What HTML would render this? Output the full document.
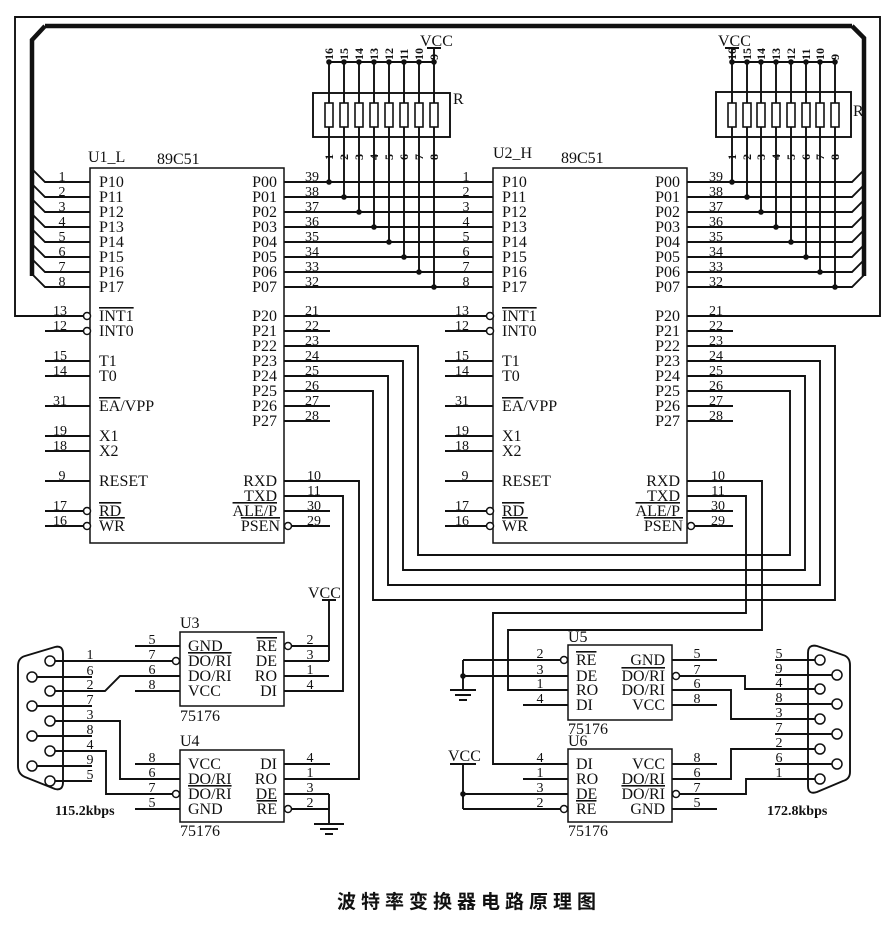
<!DOCTYPE html>
<html><head><meta charset="utf-8"><style>
html,body{margin:0;padding:0;background:#fff;}
svg{display:block;}
text{font-family:"Liberation Serif","Noto Serif CJK SC",serif;fill:#111;}
.l{font-size:16px;}
.n{font-size:14px;text-anchor:middle;}
.e{text-anchor:end;}
.o{text-decoration:overline;}
.r{font-size:12px;}
</style></head><body>
<svg width="891" height="928" viewBox="0 0 891 928" xmlns="http://www.w3.org/2000/svg">
<rect width="891" height="928" fill="#fff"/>
<g stroke="#111" stroke-width="1.9" fill="none">
<path d="M86,316 H15 V17 H880 V316 H687"/>
<path d="M45,26 L32,40 V276 M852,26 L864,38 V276 M45,26 H852" stroke-width="4.5"/>
<rect x="90" y="168" width="194" height="375" stroke-width="1.5"/>
<rect x="493" y="168" width="194" height="375" stroke-width="1.5"/>
<path d="M33,170 L45,182 H90 M33,185 L45,197 H90 M33,200 L45,212 H90 M33,215 L45,227 H90 M33,230 L45,242 H90 M33,245 L45,257 H90 M33,260 L45,272 H90 M33,275 L45,287 H90"/>
<path d="M284,182 H493 M284,197 H493 M284,212 H493 M284,227 H493 M284,242 H493 M284,257 H493 M284,272 H493 M284,287 H493"/>
<path d="M687,182 H852 L864,170 M687,197 H852 L864,185 M687,212 H852 L864,200 M687,227 H852 L864,215 M687,242 H852 L864,230 M687,257 H852 L864,245 M687,272 H852 L864,260 M687,287 H852 L864,275"/>
<rect x="313" y="93" width="137" height="44"/>
<path d="M329,62 V182 M344,62 V197 M359,62 V212 M374,62 V227 M389,62 V242 M404,62 V257 M419,62 V272 M434,48 V287 M329,62 H434 M427,48 H441"/>
<rect x="716" y="92" width="135" height="45"/>
<path d="M732,48 V182 M747,62 V197 M761,62 V212 M776,62 V227 M791,62 V242 M806,62 V257 M820,62 V272 M835,62 V287 M732,62 H835 M725,48 H739"/>
</g>
<g fill="#fff" stroke="#111" stroke-width="1.6">
<rect x="325" y="103" width="8" height="24"/><rect x="340" y="103" width="8" height="24"/><rect x="355" y="103" width="8" height="24"/><rect x="370" y="103" width="8" height="24"/><rect x="385" y="103" width="8" height="24"/><rect x="400" y="103" width="8" height="24"/><rect x="415" y="103" width="8" height="24"/><rect x="430" y="103" width="8" height="24"/>
<rect x="728" y="103" width="8" height="24"/><rect x="743" y="103" width="8" height="24"/><rect x="757" y="103" width="8" height="24"/><rect x="772" y="103" width="8" height="24"/><rect x="787" y="103" width="8" height="24"/><rect x="802" y="103" width="8" height="24"/><rect x="816" y="103" width="8" height="24"/><rect x="831" y="103" width="8" height="24"/>
</g>
<g fill="#111">
<circle cx="329" cy="62" r="2.8"/><circle cx="344" cy="62" r="2.8"/><circle cx="359" cy="62" r="2.8"/><circle cx="374" cy="62" r="2.8"/><circle cx="389" cy="62" r="2.8"/><circle cx="404" cy="62" r="2.8"/><circle cx="419" cy="62" r="2.8"/><circle cx="434" cy="62" r="2.8"/>
<circle cx="329" cy="182" r="2.8"/><circle cx="344" cy="197" r="2.8"/><circle cx="359" cy="212" r="2.8"/><circle cx="374" cy="227" r="2.8"/><circle cx="389" cy="242" r="2.8"/><circle cx="404" cy="257" r="2.8"/><circle cx="419" cy="272" r="2.8"/><circle cx="434" cy="287" r="2.8"/>
<circle cx="732" cy="62" r="2.8"/><circle cx="747" cy="62" r="2.8"/><circle cx="761" cy="62" r="2.8"/><circle cx="776" cy="62" r="2.8"/><circle cx="791" cy="62" r="2.8"/><circle cx="806" cy="62" r="2.8"/><circle cx="820" cy="62" r="2.8"/><circle cx="835" cy="62" r="2.8"/>
<circle cx="732" cy="182" r="2.8"/><circle cx="747" cy="197" r="2.8"/><circle cx="761" cy="212" r="2.8"/><circle cx="776" cy="227" r="2.8"/><circle cx="791" cy="242" r="2.8"/><circle cx="806" cy="257" r="2.8"/><circle cx="820" cy="272" r="2.8"/><circle cx="835" cy="287" r="2.8"/>
<circle cx="463" cy="676" r="2.8"/><circle cx="463" cy="794" r="2.8"/>
</g>
<g stroke="#111" stroke-width="1.9" fill="none">
<path d="M45,331 H83 M45,361 H90 M45,376 H90 M45,406 H90 M45,436 H90 M45,451 H90 M45,481 H90 M45,511 H83 M45,526 H83"/>
<path d="M284,316 H486 M284,331 H330 M284,406 H330 M284,421 H330 M284,511 H330 M291,526 H330"/>
<path d="M445,331 H486 M445,361 H493 M445,376 H493 M445,406 H493 M445,436 H493 M445,451 H493 M445,481 H493 M445,511 H486 M445,526 H486"/>
<path d="M687,331 H733 M687,406 H733 M687,421 H733 M687,511 H733 M694,526 H733"/>
<path d="M284,346 H418 V555 H790 V391 H687"/>
<path d="M284,361 H403 V570 H805 V376 H687"/>
<path d="M284,376 H388 V585 H820 V361 H687"/>
<path d="M284,391 H373 V600 H835 V346 H687"/>
<path d="M284,481 H359 V779 H284"/>
<path d="M284,496 H343 V691 H284"/>
<path d="M687,481 H762 V630 H508 V690 H568"/>
<path d="M687,496 H746 V613 H493 V764 H568"/>
<rect x="180" y="632" width="104" height="74" stroke-width="1.5"/>
<rect x="180" y="750" width="104" height="72" stroke-width="1.5"/>
<path d="M135,646 H180 M135,691 H180 M135,764 H180 M135,809 H180"/>
<path d="M292,646 H329 M284,661 H329 M284,676 H329 M329,600 V661 M322,600 H336"/>
<path d="M284,764 H330 M284,794 H329 M292,809 H329 M329,794 V824 M314,824 H344 M320,829 H338 M325,834 H333"/>
<path d="M63,654 Q63,645 55,647 L25,656 Q18,658 18,666 V766 Q18,774 25,777 L55,789 Q63,791 63,782 Z"/>
<path d="M55,661 H172 M37,677 H92 M55,691 H105 L120,676 H180 M37,706 H92 M55,721 H120 V779 H180 M37,736 H92 M55,751 H106 V794 H172 M37,766 H92 M55,781 H92"/>
<rect x="568" y="645" width="104" height="75" stroke-width="1.5"/>
<rect x="568" y="749" width="104" height="73" stroke-width="1.5"/>
<path d="M463,660 H560 M463,676 H568 M463,660 V690 M450,690 H476 M455,695 H471 M459,700 H467 M523,705 H568"/>
<path d="M672,660 H717 M680,676 H745 V689 H815 M672,690 H731 V719 H815 M672,705 H717"/>
<path d="M450,764 H476 M463,764 V809 M463,794 H568 M463,809 H560 M523,779 H568"/>
<path d="M672,764 H717 M672,779 H731 V749 H815 M680,794 H746 V779 H815 M672,809 H717"/>
<path d="M808,653 Q808,644 817,646 L843,655 Q850,657 850,665 V772 Q850,779 843,781 L817,792 Q808,795 808,786 Z"/>
<path d="M775,660 H815 M775,675 H832 M775,704 H832 M775,734 H832 M775,764 H832"/>
</g>
<g fill="#fff" stroke="#111" stroke-width="1.5">
<circle cx="87" cy="316" r="3.5"/><circle cx="87" cy="331" r="3.5"/><circle cx="87" cy="511" r="3.5"/><circle cx="87" cy="526" r="3.5"/><circle cx="288" cy="526" r="3.5"/>
<circle cx="490" cy="316" r="3.5"/><circle cx="490" cy="331" r="3.5"/><circle cx="490" cy="511" r="3.5"/><circle cx="490" cy="526" r="3.5"/><circle cx="691" cy="526" r="3.5"/>
<circle cx="176" cy="661" r="3.5"/><circle cx="288" cy="646" r="3.5"/><circle cx="176" cy="794" r="3.5"/><circle cx="288" cy="809" r="3.5"/>
<circle cx="564" cy="660" r="3.5"/><circle cx="676" cy="676" r="3.5"/><circle cx="564" cy="809" r="3.5"/><circle cx="676" cy="794" r="3.5"/>
<circle cx="50" cy="661" r="5"/><circle cx="32" cy="677" r="5"/><circle cx="50" cy="691" r="5"/><circle cx="32" cy="706" r="5"/><circle cx="50" cy="721" r="5"/><circle cx="32" cy="736" r="5"/><circle cx="50" cy="751" r="5"/><circle cx="32" cy="766" r="5"/><circle cx="50" cy="781" r="5"/>
<circle cx="820" cy="660" r="5"/><circle cx="837" cy="675" r="5"/><circle cx="820" cy="689" r="5"/><circle cx="837" cy="704" r="5"/><circle cx="820" cy="719" r="5"/><circle cx="837" cy="734" r="5"/><circle cx="820" cy="749" r="5"/><circle cx="837" cy="764" r="5"/><circle cx="820" cy="779" r="5"/>
</g>

<text class="l" x="88" y="162">U1_L</text><text class="l" x="157" y="164">89C51</text>
<text class="l" x="493" y="158">U2_H</text><text class="l" x="561" y="163">89C51</text>
<text class="l" x="420" y="46">VCC</text><text class="l" x="718" y="46">VCC</text>
<text class="l" x="453" y="104">R</text><text class="l" x="853" y="116">R</text>

<g class="l">
<text x="99" y="187">P10</text><text x="99" y="202">P11</text><text x="99" y="217">P12</text><text x="99" y="232">P13</text><text x="99" y="247">P14</text><text x="99" y="262">P15</text><text x="99" y="277">P16</text><text x="99" y="292">P17</text>
<text x="99" y="321" class="o">INT1</text><text x="99" y="336">INT0</text><text x="99" y="366">T1</text><text x="99" y="381">T0</text>
<text x="99" y="411"><tspan class="o">EA</tspan>/VPP</text><text x="99" y="441">X1</text><text x="99" y="456">X2</text><text x="99" y="486">RESET</text>
<text x="99" y="516" class="o">RD</text><text x="99" y="531" class="o">WR</text>
<text x="277" y="187" class="e">P00</text><text x="277" y="202" class="e">P01</text><text x="277" y="217" class="e">P02</text><text x="277" y="232" class="e">P03</text><text x="277" y="247" class="e">P04</text><text x="277" y="262" class="e">P05</text><text x="277" y="277" class="e">P06</text><text x="277" y="292" class="e">P07</text>
<text x="277" y="321" class="e">P20</text><text x="277" y="336" class="e">P21</text><text x="277" y="351" class="e">P22</text><text x="277" y="366" class="e">P23</text><text x="277" y="381" class="e">P24</text><text x="277" y="396" class="e">P25</text><text x="277" y="411" class="e">P26</text><text x="277" y="426" class="e">P27</text>
<text x="277" y="486" class="e">RXD</text><text x="277" y="501" class="e">TXD</text><text x="277" y="516" class="e o">ALE/P</text><text x="280" y="531" class="e o">PSEN</text>
</g>
<g class="l">
<text x="502" y="187">P10</text><text x="502" y="202">P11</text><text x="502" y="217">P12</text><text x="502" y="232">P13</text><text x="502" y="247">P14</text><text x="502" y="262">P15</text><text x="502" y="277">P16</text><text x="502" y="292">P17</text>
<text x="502" y="321" class="o">INT1</text><text x="502" y="336">INT0</text><text x="502" y="366">T1</text><text x="502" y="381">T0</text>
<text x="502" y="411"><tspan class="o">EA</tspan>/VPP</text><text x="502" y="441">X1</text><text x="502" y="456">X2</text><text x="502" y="486">RESET</text>
<text x="502" y="516" class="o">RD</text><text x="502" y="531" class="o">WR</text>
<text x="680" y="187" class="e">P00</text><text x="680" y="202" class="e">P01</text><text x="680" y="217" class="e">P02</text><text x="680" y="232" class="e">P03</text><text x="680" y="247" class="e">P04</text><text x="680" y="262" class="e">P05</text><text x="680" y="277" class="e">P06</text><text x="680" y="292" class="e">P07</text>
<text x="680" y="321" class="e">P20</text><text x="680" y="336" class="e">P21</text><text x="680" y="351" class="e">P22</text><text x="680" y="366" class="e">P23</text><text x="680" y="381" class="e">P24</text><text x="680" y="396" class="e">P25</text><text x="680" y="411" class="e">P26</text><text x="680" y="426" class="e">P27</text>
<text x="680" y="486" class="e">RXD</text><text x="680" y="501" class="e">TXD</text><text x="680" y="516" class="e o">ALE/P</text><text x="683" y="531" class="e o">PSEN</text>
</g>
<g class="n">
<text x="62" y="181">1</text><text x="62" y="196">2</text><text x="62" y="211">3</text><text x="62" y="226">4</text><text x="62" y="241">5</text><text x="62" y="256">6</text><text x="62" y="271">7</text><text x="62" y="286">8</text>
<text x="60" y="315">13</text><text x="60" y="330">12</text><text x="60" y="360">15</text><text x="60" y="375">14</text><text x="60" y="405">31</text><text x="60" y="435">19</text><text x="60" y="450">18</text><text x="62" y="480">9</text><text x="60" y="510">17</text><text x="60" y="525">16</text>
<text x="312" y="181">39</text><text x="312" y="196">38</text><text x="312" y="211">37</text><text x="312" y="226">36</text><text x="312" y="241">35</text><text x="312" y="256">34</text><text x="312" y="271">33</text><text x="312" y="286">32</text>
<text x="312" y="315">21</text><text x="312" y="330">22</text><text x="312" y="345">23</text><text x="312" y="360">24</text><text x="312" y="375">25</text><text x="312" y="390">26</text><text x="312" y="405">27</text><text x="312" y="420">28</text>
<text x="314" y="480">10</text><text x="314" y="495">11</text><text x="314" y="510">30</text><text x="314" y="525">29</text>
<text x="466" y="181">1</text><text x="466" y="196">2</text><text x="466" y="211">3</text><text x="466" y="226">4</text><text x="466" y="241">5</text><text x="466" y="256">6</text><text x="466" y="271">7</text><text x="466" y="286">8</text>
<text x="462" y="315">13</text><text x="462" y="330">12</text><text x="462" y="360">15</text><text x="462" y="375">14</text><text x="462" y="405">31</text><text x="462" y="435">19</text><text x="462" y="450">18</text><text x="465" y="480">9</text><text x="462" y="510">17</text><text x="462" y="525">16</text>
<text x="716" y="181">39</text><text x="716" y="196">38</text><text x="716" y="211">37</text><text x="716" y="226">36</text><text x="716" y="241">35</text><text x="716" y="256">34</text><text x="716" y="271">33</text><text x="716" y="286">32</text>
<text x="716" y="315">21</text><text x="716" y="330">22</text><text x="716" y="345">23</text><text x="716" y="360">24</text><text x="716" y="375">25</text><text x="716" y="390">26</text><text x="716" y="405">27</text><text x="716" y="420">28</text>
<text x="718" y="480">10</text><text x="718" y="495">11</text><text x="718" y="510">30</text><text x="718" y="525">29</text>
</g>
<g class="r" style="font-weight:bold">
<text transform="translate(333,60) rotate(-90)">16</text><text transform="translate(348,60) rotate(-90)">15</text><text transform="translate(363,60) rotate(-90)">14</text><text transform="translate(378,60) rotate(-90)">13</text><text transform="translate(393,60) rotate(-90)">12</text><text transform="translate(408,60) rotate(-90)">11</text><text transform="translate(423,60) rotate(-90)">10</text><text transform="translate(438,60) rotate(-90)">9</text>
<text transform="translate(333,160) rotate(-90)">1</text><text transform="translate(348,160) rotate(-90)">2</text><text transform="translate(363,160) rotate(-90)">3</text><text transform="translate(378,160) rotate(-90)">4</text><text transform="translate(393,160) rotate(-90)">5</text><text transform="translate(408,160) rotate(-90)">6</text><text transform="translate(423,160) rotate(-90)">7</text><text transform="translate(438,160) rotate(-90)">8</text>
<text transform="translate(736,60) rotate(-90)">16</text><text transform="translate(751,60) rotate(-90)">15</text><text transform="translate(765,60) rotate(-90)">14</text><text transform="translate(780,60) rotate(-90)">13</text><text transform="translate(795,60) rotate(-90)">12</text><text transform="translate(810,60) rotate(-90)">11</text><text transform="translate(824,60) rotate(-90)">10</text><text transform="translate(839,60) rotate(-90)">9</text>
<text transform="translate(736,160) rotate(-90)">1</text><text transform="translate(751,160) rotate(-90)">2</text><text transform="translate(765,160) rotate(-90)">3</text><text transform="translate(780,160) rotate(-90)">4</text><text transform="translate(795,160) rotate(-90)">5</text><text transform="translate(810,160) rotate(-90)">6</text><text transform="translate(824,160) rotate(-90)">7</text><text transform="translate(839,160) rotate(-90)">8</text>
</g>

<g class="l">
<text x="180" y="628">U3</text><text x="180" y="721">75176</text>
<text x="188" y="651">GND</text><text x="188" y="666" class="o">DO/RI</text><text x="188" y="681">DO/RI</text><text x="188" y="696">VCC</text>
<text x="277" y="651" class="e o">RE</text><text x="277" y="666" class="e">DE</text><text x="277" y="681" class="e">RO</text><text x="277" y="696" class="e">DI</text>
<text x="180" y="746">U4</text><text x="180" y="836">75176</text>
<text x="188" y="769">VCC</text><text x="188" y="784">DO/RI</text><text x="188" y="799" class="o">DO/RI</text><text x="188" y="814">GND</text>
<text x="277" y="769" class="e">DI</text><text x="277" y="784" class="e">RO</text><text x="277" y="799" class="e">DE</text><text x="277" y="814" class="e o">RE</text>
<text x="308" y="598">VCC</text>
<text x="568" y="642">U5</text><text x="568" y="734">75176</text>
<text x="576" y="665" class="o">RE</text><text x="576" y="681">DE</text><text x="576" y="695">RO</text><text x="576" y="710">DI</text>
<text x="665" y="665" class="e">GND</text><text x="665" y="681" class="e o">DO/RI</text><text x="665" y="695" class="e">DO/RI</text><text x="665" y="710" class="e">VCC</text>
<text x="568" y="746">U6</text><text x="568" y="836">75176</text>
<text x="576" y="769">DI</text><text x="576" y="784">RO</text><text x="576" y="799">DE</text><text x="576" y="814" class="o">RE</text>
<text x="665" y="769" class="e">VCC</text><text x="665" y="784" class="e">DO/RI</text><text x="665" y="799" class="e o">DO/RI</text><text x="665" y="814" class="e">GND</text>
<text x="448" y="761">VCC</text>
</g>
<g class="n">
<text x="152" y="644">5</text><text x="152" y="659">7</text><text x="152" y="674">6</text><text x="152" y="689">8</text>
<text x="310" y="644">2</text><text x="310" y="659">3</text><text x="310" y="674">1</text><text x="310" y="689">4</text>
<text x="152" y="762">8</text><text x="152" y="777">6</text><text x="152" y="792">7</text><text x="152" y="807">5</text>
<text x="310" y="762">4</text><text x="310" y="777">1</text><text x="310" y="792">3</text><text x="310" y="807">2</text>
<text x="90" y="659">1</text><text x="90" y="675">6</text><text x="90" y="689">2</text><text x="90" y="704">7</text><text x="90" y="719">3</text><text x="90" y="734">8</text><text x="90" y="749">4</text><text x="90" y="764">9</text><text x="90" y="779">5</text>
<text x="540" y="658">2</text><text x="540" y="674">3</text><text x="540" y="688">1</text><text x="540" y="703">4</text>
<text x="697" y="658">5</text><text x="697" y="674">7</text><text x="697" y="688">6</text><text x="697" y="703">8</text>
<text x="540" y="762">4</text><text x="540" y="777">1</text><text x="540" y="792">3</text><text x="540" y="807">2</text>
<text x="697" y="762">8</text><text x="697" y="777">6</text><text x="697" y="792">7</text><text x="697" y="807">5</text>
<text x="779" y="658">5</text><text x="779" y="673">9</text><text x="779" y="687">4</text><text x="779" y="702">8</text><text x="779" y="717">3</text><text x="779" y="732">7</text><text x="779" y="747">2</text><text x="779" y="762">6</text><text x="779" y="777">1</text>
</g>
<text x="55" y="815" style="font-size:14px;font-weight:bold">115.2kbps</text>
<text x="767" y="815" style="font-size:14px;font-weight:bold">172.8kbps</text>
<text x="469" y="908" text-anchor="middle" style="font-family:'Noto Sans CJK SC','WenQuanYi Zen Hei',sans-serif;font-size:19px;font-weight:bold;letter-spacing:5px">波特率变换器电路原理图</text>
</svg>
</body></html>
